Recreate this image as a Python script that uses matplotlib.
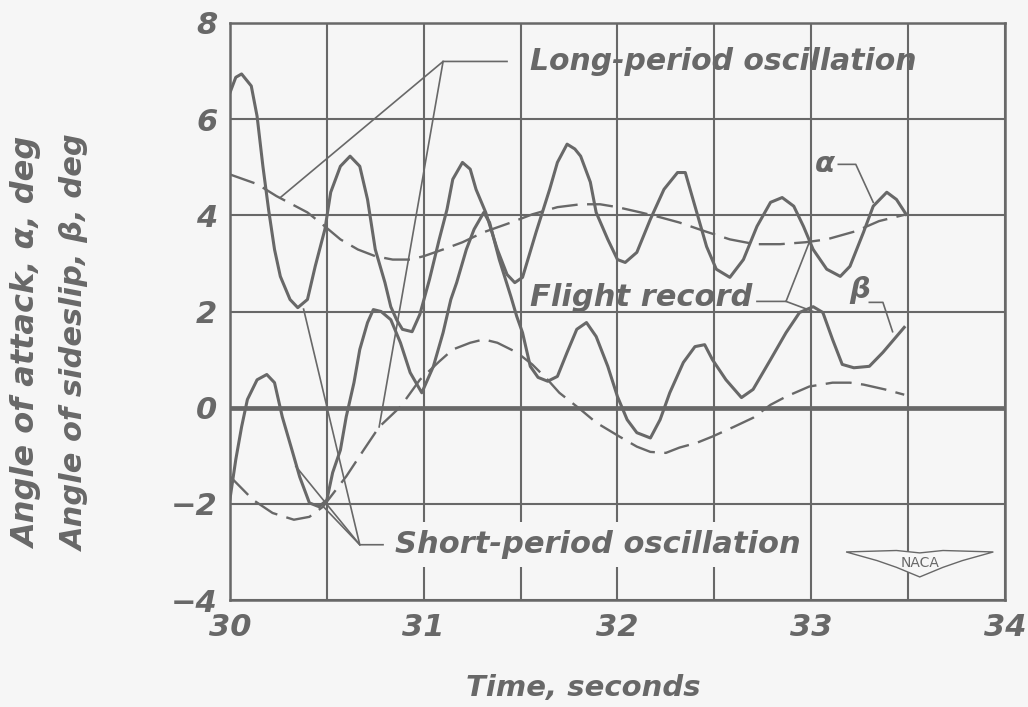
import matplotlib
matplotlib.use("Agg")
import matplotlib.pyplot as plt
from matplotlib.patches import Polygon

INK = "#686868"
PAPER = "#f6f6f6"

# angle of attack, flight record (t in s, deg)
alpha_t = [30.00, 30.03, 30.06, 30.11, 30.14, 30.17, 30.20, 30.23, 30.26, 30.31,
           30.35, 30.40, 30.44, 30.49, 30.52, 30.57, 30.62, 30.67, 30.71, 30.75,
           30.80, 30.83, 30.86, 30.89, 30.94, 30.98, 31.03, 31.08, 31.12, 31.15,
           31.20, 31.24, 31.27, 31.32, 31.38, 31.43, 31.47, 31.51, 31.58, 31.65,
           31.69, 31.74, 31.78, 31.81, 31.86, 31.89, 31.95, 32.00, 32.04, 32.10,
           32.17, 32.24, 32.31, 32.35, 32.39, 32.43, 32.46, 32.51, 32.58, 32.65,
           32.72, 32.79, 32.85, 32.91, 32.96, 33.01, 33.08, 33.15, 33.20, 33.27,
           33.32, 33.39, 33.44, 33.49]
alpha_v = [6.55, 6.87, 6.94, 6.69, 6.06, 5.02, 4.10, 3.29, 2.73, 2.25,
           2.08, 2.25, 2.94, 3.71, 4.48, 5.02, 5.23, 5.02, 4.33, 3.29,
           2.60, 2.10, 1.83, 1.63, 1.58, 1.94, 2.67, 3.50, 4.12, 4.75,
           5.10, 4.96, 4.54, 4.06, 3.29, 2.77, 2.60, 2.71, 3.65, 4.54,
           5.10, 5.48, 5.38, 5.23, 4.69, 4.06, 3.50, 3.08, 3.02, 3.23,
           3.92, 4.54, 4.89, 4.89, 4.33, 3.77, 3.35, 2.88, 2.71, 3.08,
           3.77, 4.27, 4.37, 4.19, 3.77, 3.29, 2.88, 2.73, 2.94, 3.65,
           4.19, 4.48, 4.33, 4.02]

# angle of attack, long-period oscillation
alpha_lp_t = [30.00, 30.14, 30.24, 30.40, 30.49, 30.57, 30.66, 30.75, 30.84, 30.93,
              31.00, 31.10, 31.20, 31.31, 31.45, 31.56, 31.69, 31.81, 31.91, 32.00,
              32.12, 32.22, 32.32, 32.45, 32.58, 32.71, 32.84, 32.97, 33.08, 33.23,
              33.35, 33.49]
alpha_lp_v = [4.85, 4.65, 4.40, 4.06, 3.77, 3.50, 3.29, 3.15, 3.08, 3.08,
              3.15, 3.29, 3.44, 3.65, 3.85, 4.02, 4.17, 4.23, 4.23, 4.17,
              4.06, 3.96, 3.85, 3.67, 3.50, 3.40, 3.40, 3.44, 3.50, 3.67,
              3.88, 4.02]

# angle of sideslip, flight record
beta_t = [30.00, 30.03, 30.06, 30.09, 30.14, 30.19, 30.23, 30.27, 30.32, 30.36,
          30.41, 30.46, 30.50, 30.53, 30.57, 30.60, 30.64, 30.67, 30.71, 30.74,
          30.78, 30.83, 30.88, 30.93, 30.99, 31.05, 31.10, 31.14, 31.17, 31.22,
          31.26, 31.31, 31.34, 31.39, 31.45, 31.48, 31.51, 31.55, 31.59, 31.64,
          31.69, 31.74, 31.79, 31.84, 31.89, 31.95, 32.00, 32.05, 32.10, 32.17,
          32.22, 32.27, 32.34, 32.40, 32.45, 32.49, 32.56, 32.64, 32.70, 32.79,
          32.87, 32.94, 33.01, 33.06, 33.11, 33.16, 33.22, 33.30, 33.37, 33.48]
beta_v = [-1.90, -1.08, -0.40, 0.17, 0.58, 0.69, 0.52, -0.19, -0.88, -1.44,
          -1.98, -2.06, -1.92, -1.35, -0.88, -0.19, 0.52, 1.21, 1.77, 2.04,
          2.00, 1.83, 1.35, 0.73, 0.31, 0.86, 1.56, 2.25, 2.60, 3.29,
          3.71, 4.06, 3.85, 3.08, 2.31, 1.90, 1.56, 0.86, 0.63, 0.55,
          0.65, 1.15, 1.63, 1.77, 1.48, 0.86, 0.23, -0.25, -0.52, -0.63,
          -0.25, 0.31, 0.94, 1.27, 1.31, 1.00, 0.58, 0.21, 0.38, 1.00,
          1.56, 1.98, 2.10, 1.98, 1.42, 0.90, 0.83, 0.86, 1.15, 1.67]

# angle of sideslip, long-period oscillation
beta_lp_t = [30.00, 30.12, 30.22, 30.33, 30.41, 30.48, 30.60, 30.69, 30.77, 30.88,
             30.98, 31.08, 31.15, 31.24, 31.31, 31.38, 31.48, 31.56, 31.64, 31.70,
             31.81, 31.89, 32.01, 32.10, 32.17, 32.25, 32.32, 32.41, 32.49, 32.60,
             32.70, 32.79, 32.87, 32.99, 33.11, 33.20, 33.27, 33.38, 33.48]
beta_lp_v = [-1.43, -1.92, -2.19, -2.33, -2.27, -2.06, -1.43, -0.88, -0.40, 0.02,
             0.58, 0.96, 1.21, 1.35, 1.42, 1.35, 1.15, 0.90, 0.58, 0.31,
             -0.04, -0.31, -0.60, -0.81, -0.92, -0.94, -0.83, -0.73, -0.60, -0.40,
             -0.21, 0.06, 0.23, 0.44, 0.52, 0.52, 0.48, 0.38, 0.27]

x_ticks = [30, 31, 32, 33, 34]
y_ticks = [-4, -2, 0, 2, 4, 6, 8]

plt.rcParams["font.family"] = ["DejaVu Sans"]
lab = dict(color=INK, fontstyle="oblique", fontweight="bold")

fig = plt.figure(figsize=(10.28, 7.07), dpi=100, facecolor=PAPER)
ax = fig.add_axes([0.2237, 0.1513, 0.7539, 0.8162])
ax.set_facecolor(PAPER)
ax.set_xlim(30, 34)
ax.set_ylim(-4, 8)

ax.set_xticks(x_ticks)
ax.set_xticklabels([str(v) for v in x_ticks])
ax.set_xticks([30.5, 31.5, 32.5, 33.5], minor=True)
ax.set_yticks(y_ticks)
ax.set_yticklabels([str(v).replace("-", "\u2212") for v in y_ticks])
ax.tick_params(which="both", length=0)
ax.tick_params(axis="x", pad=9)
ax.tick_params(axis="y", pad=9)
for lbl in ax.get_xticklabels() + ax.get_yticklabels():
    lbl.set_fontsize(22)
    lbl.set_color(INK)
    lbl.set_fontstyle("oblique")
    lbl.set_fontweight("bold")

ax.grid(True, which="both", color=INK, lw=1.5)
ax.set_axisbelow(True)
for s in ax.spines.values():
    s.set_color(INK)
    s.set_linewidth(1.8)
ax.axhline(0, color=INK, lw=3.4, zorder=1)

# curves
ax.plot(alpha_t, alpha_v, color=INK, lw=2.2, zorder=3)
ax.plot(beta_t, beta_v, color=INK, lw=2.2, zorder=3)
ax.plot(alpha_lp_t, alpha_lp_v, color=INK, lw=1.7, dashes=(11, 4), zorder=3)
ax.plot(beta_lp_t, beta_lp_v, color=INK, lw=1.7, dashes=(11, 4), zorder=3)

# annotations with leader lines
thin = dict(color=INK, lw=1.2, zorder=4)
ax.text(31.55, 7.2, "Long-period oscillation", fontsize=21.5, va="center", ha="left", **lab)
ax.plot([31.43, 31.10, 30.26], [7.2, 7.2, 4.37], **thin)
ax.plot([31.10, 30.77], [7.2, -0.40], **thin)

ax.text(31.55, 2.3, "Flight record", fontsize=22, va="center", ha="left", **lab)
ax.plot([32.72, 32.87, 32.99], [2.21, 2.21, 3.44], **thin)
ax.plot([32.87, 33.01], [2.21, 2.0], **thin)

ax.text(33.07, 5.06, "α", fontsize=21, va="center", ha="center", **lab)
ax.plot([33.14, 33.23, 33.32], [5.06, 5.06, 4.27], **thin)
ax.text(33.25, 2.45, "β", fontsize=21, va="center", ha="center", **lab)
ax.plot([33.30, 33.37, 33.42], [2.19, 2.19, 1.58], **thin)

ax.text(30.85, -2.85, "Short-period oscillation", fontsize=22, va="center", ha="left",
        bbox=dict(facecolor=PAPER, edgecolor="none", pad=6), zorder=5, **lab)
ax.plot([30.79, 30.67, 30.34], [-2.85, -2.85, -1.22], **thin)
ax.plot([30.67, 30.48], [-2.85, -2.05], **thin)
ax.plot([30.67, 30.38], [-2.85, 2.05], **thin)

# NACA wing badge
cx, cy = 33.56, -3.22
wing = [(-0.38, 0.22), (-0.12, 0.25), (0.0, 0.2), (0.12, 0.25), (0.38, 0.22),
        (0.22, 0.04), (0.12, -0.1), (0.0, -0.3), (-0.12, -0.1), (-0.22, 0.04)]
ax.add_patch(Polygon([(cx + dx, cy + dy) for dx, dy in wing], closed=True,
                     facecolor=PAPER, edgecolor=INK, lw=1.0, zorder=6))
ax.text(cx, cy, "NACA", fontsize=10, color=INK, ha="center", va="center", zorder=7)

fig.text(0.027, 0.515, "Angle of attack, α, deg", rotation=90, fontsize=23,
         ha="center", va="center", **lab)
fig.text(0.073, 0.515, "Angle of sideslip, β, deg", rotation=90, fontsize=22,
         ha="center", va="center", **lab)
fig.text(0.567, 0.027, "Time, seconds", fontsize=21, ha="center", va="center", **lab)

fig.savefig("out.png", dpi=100, facecolor=PAPER)
